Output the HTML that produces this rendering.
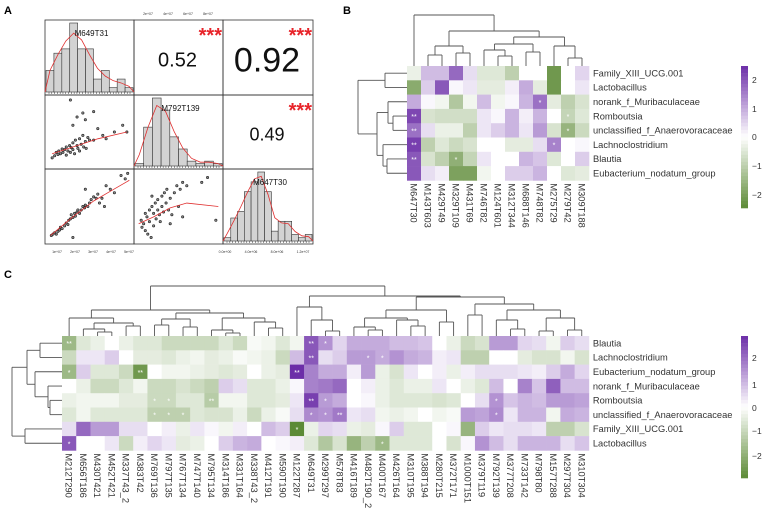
<!DOCTYPE html>
<html><head><meta charset="utf-8"><style>
html,body{margin:0;padding:0;background:#fff;}
svg{display:block;font-family:"Liberation Sans",Arial,sans-serif;}
</style></head><body>
<svg id="fig" width="767" height="511" viewBox="0 0 767 511">
<text x="4" y="14" font-size="11" font-weight="bold">A</text>
<text x="343" y="14" font-size="11" font-weight="bold">B</text>
<text x="4" y="278" font-size="11" font-weight="bold">C</text>
<g id="pa"></g>
<g id="pb"></g>
<g id="pc"></g>
</svg>
<script>
// ---------- Panel A data ----------
const histA1 = [5,9,10,16,10,10,3,5,1,3,1];
const histA2 = [1,16,28,23,12,7,2,1,2,1];
const histA3 = [1,7,9,15,18,21,15,3,6,6,2,1,2];
const histNames = ["M649T31","M792T139","M647T30"];
const corrValues = ["0.52","0.92","0.49"];
const scatter10 = [[.05,.88],[.08,.85],[.1,.8],[.12,.83],[.13,.78],[.15,.82],[.17,.75],[.18,.8],[.2,.76],[.22,.72],[.22,.84],[.24,.78],[.26,.7],[.27,.8],[.28,.73],[.3,.66],[.3,.76],[.32,.82],[.33,.62],[.35,.7],[.36,.74],[.38,.6],[.38,.78],[.4,.68],[.42,.55],[.43,.72],[.45,.64],[.46,.74],[.48,.58],[.5,.62],[.3,.4],[.35,.28],[.45,.32],[.55,.2],[.55,.62],[.6,.45],[.66,.55],[.7,.6],[.8,.5],[.9,.4],[.95,.5],[.27,.03],[.42,.22]];
const line10 = [[.05,.82],[.3,.72],[.6,.6],[.95,.5]];
const scatter20 = [[.04,.92],[.06,.9],[.08,.88],[.1,.9],[.12,.86],[.14,.84],[.15,.8],[.17,.82],[.2,.78],[.22,.74],[.24,.76],[.25,.7],[.27,.68],[.28,.62],[.3,.66],[.32,.6],[.33,.64],[.35,.58],[.36,.55],[.38,.6],[.4,.55],[.42,.5],[.44,.52],[.45,.48],[.48,.5],[.5,.45],[.52,.4],[.55,.36],[.58,.38],[.6,.32],[.62,.45],[.65,.38],[.68,.5],[.7,.2],[.75,.25],[.8,.3],[.88,.05],[.93,.1],[.96,.02],[.45,.25],[.3,.95]];
const line20 = [[.03,.92],[.3,.65],[.55,.42],[.75,.28],[.98,.12]];
const scatter21 = [[.05,.7],[.06,.8],[.08,.75],[.1,.6],[.1,.85],[.12,.65],[.13,.9],[.15,.55],[.15,.72],[.17,.95],[.18,.5],[.2,.6],[.2,.78],[.22,.45],[.23,.68],[.25,.55],[.25,.4],[.27,.62],[.28,.72],[.3,.35],[.3,.5],[.32,.58],[.33,.3],[.35,.45],[.36,.25],[.38,.55],[.4,.38],[.42,.62],[.45,.3],[.48,.2],[.5,.5],[.52,.25],[.55,.65],[.55,.15],[.6,.2],[.78,.15],[.85,.08],[.95,.7],[.4,.75],[.18,.35]];
const line21 = [[.02,.75],[.2,.65],[.4,.52],[.6,.45],[.98,.5]];
const tickTopA = ["2e+07","4e+07","6e+07","8e+07"];
const tickBottomA1 = ["1e+07","2e+07","3e+07","4e+07","5e+07"];
const tickBottomA3 = ["0.0e+00","4.0e+06","8.0e+06","1.2e+07"];

// ---------- Panel B data ----------
const rowsB = ["Family_XIII_UCG.001","Lactobacillus","norank_f_Muribaculaceae","Romboutsia","unclassified_f_Anaerovoracaceae","Lachnoclostridium","Blautia","Eubacterium_nodatum_group"];
const colsB = ["M647T30","M143T603","M429T49","M329T109","M431T69","M746T82","M124T601","M312T344","M688T146","M748T82","M275T29","M279T42","M309T188"];
const valB0 = [-0.3,0.8,0.8,1.8,0.4,-0.5,-0.5,-1.0,0,0,-2.2,0,0.5];
const valB1 = [-1.8,0.6,2.0,0.1,0.3,-0.4,-0.4,0.2,1.0,-0.4,-2.2,0,0.3];
const valB2 = [1.0,0.1,-0.2,-1.2,-0.2,0.8,-0.2,0.1,0.9,1.7,-0.4,-1.0,-0.6];
const valB3 = [2.2,-0.6,-0.7,-0.7,-0.7,0.3,0.1,0.9,0.2,0.9,0,-0.9,-0.5];
const valB4 = [1.7,0.4,-0.3,-0.3,-1.0,0.3,0.6,0.9,0.3,1.2,-0.6,-1.6,-0.8];
const valB5 = [2.3,-1.0,-0.5,-0.8,-0.6,0,0,-0.4,-0.4,0.4,1.5,0,0.1];
const valB6 = [2.0,-0.6,-1.0,-1.7,-0.9,0.3,0,0,0.9,0.7,-0.5,0,0.6];
const valB7 = [2.0,0.4,0.2,-2.0,-2.0,-0.2,0,0.6,0.6,0.9,0,-0.5,-0.4];
const starsB = [[2,9,"*"],[3,0,"**"],[3,11,"*"],[4,0,"**"],[4,11,"*"],[5,0,"**"],[5,10,"*"],[6,0,"**"],[6,3,"*"]];
const legendTicks = ["2","1","0","\u22121","\u22122"];

// ---------- Panel C data ----------
const rowsC = ["Blautia","Lachnoclostridium","Eubacterium_nodatum_group","norank_f_Muribaculaceae","Romboutsia","unclassified_f_Anaerovoracaceae","Family_XIII_UCG.001","Lactobacillus"];
const colsC = ["M212T290","M656T186","M430T421","M452T421","M337T43_2","M383T42","M769T136","M797T135","M767T134","M747T140","M795T134","M314T186","M331T164","M338T43_2","M412T191","M590T190","M122T287","M649T31","M299T297","M578T83","M416T189","M482T190_2","M400T167","M426T164","M310T195","M388T194","M280T215","M372T171","M1000T151","M379T119","M792T139","M377T208","M733T142","M798T80","M157T288","M297T304","M310T304"];
const valC0 = [-1.5,-0.5,-0.3,0,-0.3,-0.5,-0.5,-0.8,-0.8,-0.8,-0.8,-0.5,-0.8,-0.1,-0.2,-0.5,-0.2,2.0,1.3,0.5,1.0,1.0,1.0,0.8,0.8,0.7,0,-0.3,-0.8,-0.6,1.2,1.2,0.5,0.4,-0.2,0.6,0.4];
const valC1 = [-0.8,0.3,0.3,0.6,0,-0.4,-0.4,-0.5,-0.3,-0.2,-0.4,-0.3,-0.1,-0.2,-0.3,-0.8,0.8,2.0,0.4,0.6,1.2,1.2,1.0,1.3,1.0,0.9,0.2,0.3,-1.0,-1.0,0,0,-0.4,-0.6,-0.6,-0.2,-0.6];
const valC2 = [-1.5,0.6,-0.5,-0.5,-0.8,-2.2,0,-0.2,-0.2,-0.3,-0.4,-0.5,-0.4,0,-0.3,-0.4,2.5,1.5,1.0,1.0,0.2,1.2,-0.3,-0.6,0.3,0,0.2,-0.3,0.2,0.4,0.4,0.4,0.3,0.2,0.6,1.0,0.5];
const valC3 = [0,-0.3,-0.8,-0.8,-0.5,-0.2,-0.8,-0.8,-0.6,-0.8,-1.0,0.6,0.4,-0.5,-0.5,-0.3,0.1,1.5,1.6,1.8,0,0.2,-0.3,-0.5,-0.3,-0.3,0.3,0,-0.3,-0.5,0.8,0,1.5,0.7,1.9,0.8,0.8];
const valC4 = [-0.3,-0.2,-0.2,-0.2,-0.4,-0.4,-0.8,-0.8,-0.5,-0.5,-1.1,-0.2,-0.2,-0.5,-0.5,-0.4,0.3,2.3,1.2,1.0,0,0.1,-0.3,-0.5,-0.5,-0.5,-0.6,-0.5,0,0.4,1.3,0.7,0.9,0.8,1.2,1.2,1.1];
const valC5 = [-0.5,-0.2,-0.5,-0.5,-0.5,-0.5,-1.0,-1.0,-1.0,-0.5,-0.6,-0.6,-0.3,-0.8,-0.3,-0.1,0.4,1.4,1.3,1.6,0.3,0.4,-0.2,-0.3,-0.2,0,-0.2,-0.1,1.2,1.1,1.4,0.3,0.9,0.9,-0.2,1.0,0.9];
const valC6 = [0.4,1.8,1.2,1.2,0.4,0.4,0,0.2,-0.3,0.3,0.1,-0.2,0.2,0,0.8,0.6,-2.5,-0.3,0.5,0.4,-0.3,-0.4,0.1,0.6,-0.5,-0.5,0,0.1,-1.6,0.6,0.3,0.4,0.4,0.3,-1.0,-1.0,-0.6];
const valC7 = [2.0,0,0,0.3,-0.8,0.2,0.5,0.3,-0.4,-0.3,0,0.6,0.9,1.0,0,0.1,0.2,-0.5,-1.2,-0.6,-1.6,-1.0,-1.5,-0.5,-0.5,-0.5,0,-0.6,0.1,1.3,0.8,0.4,0.9,0.9,0.9,0.4,0.7];
const starsC = [[0,0,"**"],[0,17,"**"],[0,18,"*"],[1,17,"**"],[1,21,"*"],[1,22,"*"],[2,0,"*"],[2,5,"**"],[2,16,"**"],[4,6,"*"],[4,7,"*"],[4,10,"**"],[4,17,"**"],[4,18,"*"],[4,30,"*"],[5,6,"*"],[5,7,"*"],[5,8,"*"],[5,17,"*"],[5,18,"*"],[5,19,"**"],[5,30,"*"],[6,16,"*"],[7,0,"*"],[7,22,"*"]];

// ---------- helpers ----------
const NS="http://www.w3.org/2000/svg";
function mk(parent,tag,attrs,text){const e=document.createElementNS(NS,tag);for(const k in attrs)e.setAttribute(k,attrs[k]);if(text!==undefined)e.textContent=text;parent.appendChild(e);return e;}
function color(v){
  const t=Math.max(-1,Math.min(1,v/2.5));
  const P=[108,46,168], G=[92,138,54];
  const c=t>=0?P:G, a=Math.abs(t);
  return "rgb("+c.map(x=>Math.round(255+(x-255)*a)).join(",")+")";
}
function N(h,a,b){return {h:h,c:[a,b]};}

// ---------- Panel A ----------
const pa=document.getElementById('pa');
const AX=[45,134,223,313], AY=[20,95,169,244];
for(let r=0;r<3;r++)for(let c=0;c<3;c++){
  const cell=mk(pa,'rect',{x:AX[c],y:AY[r],width:AX[c+1]-AX[c],height:AY[r+1]-AY[r],fill:'none',stroke:'#333','stroke-width':0.8});
  
  
}
const hists=[histA1,histA2,histA3];
hists.forEach((h,i)=>{
  const x0=AX[i]+1,x1=AX[i+1]-1,y1=AY[i+1]-3,ytop=AY[i]+3;
  const mx=Math.max(...h), bw=(x1-x0)/h.length;
  const sx=k=>x0+k*bw, sy=v=>y1-(v/mx)*(y1-ytop);
  h.forEach((v,k)=>{
    const b=mk(pa,'rect',{x:sx(k),y:sy(v),width:bw,height:y1-sy(v),fill:'#d3d3d3',stroke:'#333','stroke-width':0.6});
    
    
  });
  let pts=[];
  for(let k=0;k<h.length;k++){
    const s=((h[k-1]||0)+2*h[k]+(h[k+1]||0))/4;
    pts.push([sx(k+0.5),sy(s*1.05)]);
  }
  pts.unshift([x0-1,y1]);pts.push([x1+1,y1]);
  const d=mk(pa,'polyline',{points:pts.map(p=>p.join(',')).join(' '),fill:'none',stroke:'#e03030','stroke-width':0.8});
  
  
  for(let k=0;k<30;k++){mk(pa,'line',{x1:x0+3+k*(x1-x0-6)/29,x2:x0+3+k*(x1-x0-6)/29,y1:y1,y2:y1+2,stroke:'#333','stroke-width':0.5});}
  const lab=mk(pa,'text',{x:(AX[i]+AX[i+1])/2+2,y:AY[i]+16,'font-size':8,'text-anchor':'middle',fill:'#111'},histNames[i]);
  
  
});
function scatter(pts,line,r,c){
  const x0=AX[c]+3,x1=AX[c+1]-3,y0=AY[r]+3,y1=AY[r+1]-3;
  const sx=v=>x0+v*(x1-x0), sy=v=>y0+v*(y1-y0);
  pts.forEach((p,k)=>{
    const e=mk(pa,'circle',{cx:sx(p[0]),cy:sy(p[1]),r:1.2,fill:'#888',stroke:'#222','stroke-width':0.6});
    
    
  });
  const l=mk(pa,'polyline',{points:line.map(p=>sx(p[0])+','+sy(p[1])).join(' '),fill:'none',stroke:'#e03030','stroke-width':0.8});
  
  
}
scatter(scatter10,line10,1,0);
scatter(scatter20,line20,2,0);
scatter(scatter21,line21,2,1);
const corrPos=[[0,1,20],[0,2,34],[1,2,18]];
corrPos.forEach((p,i)=>{
  const cx=(AX[p[1]]+AX[p[1]+1])/2, cy=(AY[p[0]]+AY[p[0]+1])/2;
  const t=mk(pa,'text',{x:cx-1,y:cy+p[2]*0.36+2,'font-size':p[2],'text-anchor':'middle',fill:'#111'},corrValues[i]);
  
  
  const s=mk(pa,'text',{x:AX[p[1]+1]-1,y:AY[p[0]]+22,'font-size':20,'text-anchor':'end',fill:'#e8242a','font-weight':'bold'},'***');
  
  
});
tickTopA.forEach((t,i)=>{mk(pa,'text',{x:148+i*20,y:15,'font-size':3.5,'text-anchor':'middle',fill:'#333'},t);});
tickBottomA1.forEach((t,i)=>{mk(pa,'text',{x:57+i*18,y:253,'font-size':3.5,'text-anchor':'middle',fill:'#333'},t);});
tickBottomA3.forEach((t,i)=>{mk(pa,'text',{x:225+i*26,y:253,'font-size':3.5,'text-anchor':'middle',fill:'#333'},t);});

// ---------- dendrogram helper ----------
function dendro(g,node,leafPos,leafEnd,orient,name){
  function rec(n){
    if(typeof n==='number') return {p:leafPos(n),h:leafEnd};
    const a=rec(n.c[0]), b=rec(n.c[1]);
    const seg=(p,h0)=>orient==='top'?
      mk(g,'polyline',{points:p+','+h0+' '+p+','+n.h,fill:'none',stroke:'#555','stroke-width':0.9}):
      mk(g,'polyline',{points:h0+','+p+' '+n.h+','+p,fill:'none',stroke:'#555','stroke-width':0.9});
    seg(a.p,a.h);seg(b.p,b.h);
    if(orient==='top') mk(g,'line',{x1:a.p,x2:b.p,y1:n.h,y2:n.h,stroke:'#555','stroke-width':0.9});
    else mk(g,'line',{y1:a.p,y2:b.p,x1:n.h,x2:n.h,stroke:'#555','stroke-width':0.9});
    return {p:(a.p+b.p)/2,h:n.h};
  }
  rec(node);
}

// ---------- heatmap helper ----------
function heatmap(g,rows,cols,vals,stars,X0,Y0,cw,ch,prefix,barX,barY0,barY1,tickYs){
  vals.forEach((row,r)=>row.forEach((v,c)=>{
    const e=mk(g,'rect',{x:X0+c*cw,y:Y0+r*ch,width:cw+0.3,height:ch+0.3,fill:color(v)});
    
    
  }));
  stars.forEach(s=>{
    const t=mk(g,'text',{x:X0+(s[1]+0.5)*cw,y:Y0+(s[0]+0.5)*ch+3,'font-size':7,'text-anchor':'middle',fill:'#fff'},s[2]);
    
    
  });
  rows.forEach((n,r)=>{
    const t=mk(g,'text',{x:X0+cols.length*cw+4,y:Y0+(r+0.5)*ch+3.2,'font-size':9.3,fill:'#333'},n);
    
    
  });
  cols.forEach((n,c)=>{
    const x=X0+(c+0.5)*cw-3.4, y=Y0+rows.length*ch+3;
    const t=mk(g,'text',{x:x,y:y,'font-size':9.3,fill:'#333',transform:'rotate(90 '+x+' '+y+')'},n);
    
    
  });
  const steps=40;
  for(let i=0;i<steps;i++){
    const v=2.5-5*(i+0.5)/steps;
    const e=mk(g,'rect',{x:barX,y:barY0+i*(barY1-barY0)/steps,width:7,height:(barY1-barY0)/steps+0.3,fill:color(v)});
    
    
  }
  legendTicks.forEach((t,i)=>{
    const e=mk(g,'text',{x:barX+11,y:tickYs[i]+3,'font-size':8.5,fill:'#333'},t);
    
    
  });
}

// ---------- Panel B ----------
const pb=document.getElementById('pb');
const valsB=[valB0,valB1,valB2,valB3,valB4,valB5,valB6,valB7];
const BX=407,BY=66,Bcw=14,Bch=14.3;
heatmap(pb,rowsB,colsB,valsB,starsB,BX,BY,Bcw,Bch,'b',741,66,208,[80,109,137,166,195]);
const treeBc=N(15,0,N(31,N(46,N(55,1,2),N(53,3,4)),N(37,N(44,N(50,5,N(56,6,7)),N(52,8,9)),N(46,10,N(58,11,12)))));
dendro(pb,treeBc,i=>BX+(i+0.5)*Bcw,BY,'top');
const treeBr=N(358,N(385,0,1),N(377,N(388,2,N(393,3,4)),N(383,5,N(387,6,7))));
dendro(pb,treeBr,i=>BY+(i+0.5)*Bch,BX,'left');

// ---------- Panel C ----------
const pc=document.getElementById('pc');
const valsC=[valC0,valC1,valC2,valC3,valC4,valC5,valC6,valC7];
const CX=62,CY=336,Ccw=14.24,Cch=14.3;
heatmap(pc,rowsC,colsC,valsC,starsC,CX,CY,Ccw,Cch,'c',741,336,478,[358,385,408,431,456]);
const treeCc=N(286,
  N(310,N(318,0,N(323,N(329,1,N(332,2,3)),N(326,4,5))),N(313,N(319,N(325,6,7),N(327,8,9)),N(318,N(330,10,N(333,11,12)),N(322,13,N(328,14,15))))),
  N(296,N(307,16,N(320,17,N(331,18,19))),N(297,N(310,N(318,N(327,20,N(330,21,22)),N(320,23,N(326,24,25))),N(322,26,27)),N(304,N(315,28,29),N(310,N(320,30,N(329,31,32)),N(318,N(331,33,34),N(330,35,36)))))));
dendro(pc,treeCc,i=>CX+(i+0.5)*Ccw,CY,'top');
const treeCr=N(12,N(27,N(40,0,1),N(35,2,N(48,3,N(50,4,5)))),N(25,6,7));
dendro(pc,treeCr,i=>CY+(i+0.5)*Cch,CX,'left');
</script>
</body></html>
